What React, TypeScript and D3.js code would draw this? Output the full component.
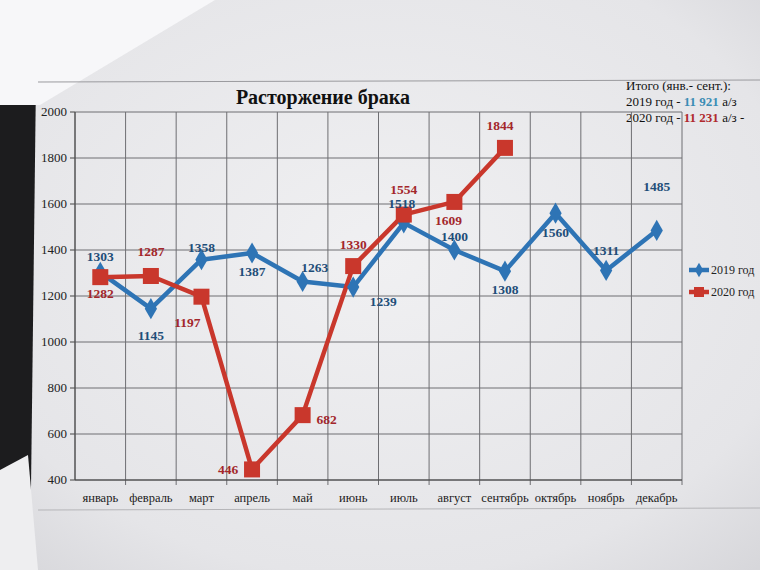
import React from "react";
import * as d3 from "d3";

const months = ["январь","февраль","март","апрель","май","июнь","июль","август","сентябрь","октябрь","ноябрь","декабрь"];
const values2019 = [1303,1145,1358,1387,1263,1239,1518,1400,1308,1560,1311,1485];
const values2020 = [1282,1287,1197,446,682,1330,1554,1609,1844];
const yTicks = [400,600,800,1000,1200,1400,1600,1800,2000];
const seriesNames = ["2019 год","2020 год"];

// label placement offsets (layout only)
const lab2019 = [[0,-16],[0,26],[0,-13],[0,18],[12,-15],[30,14],[-2,-20],[0,-14],[0,18],[0,19],[0,-20],[0,-44]];
const lab2020 = [[0,16],[0,-25],[-14,25],[-24,0],[24,4],[0,-22],[0,-26],[-6,18],[-5,-23]];

const W = 760, H = 570;
const L = 75, R = 682, T = 112, B = 480;

export default function App() {
  const x = d3.scaleBand<string>().domain(months).range([L, R]).paddingInner(0).paddingOuter(0);
  const y = d3.scaleLinear().domain([400, 2000]).range([B, T]);
  const cx = (i: number) => (x(months[i]) as number) + x.bandwidth() / 2;
  const line = d3.line<number>().x((_, i) => cx(i)).y((d) => y(d));
  const blue = "#2e74b5", red = "#c9372c";
  const blueText = "#1f4e79", redText = "#a3272b";
  const serif = "'Liberation Serif', 'DejaVu Serif', serif";
  const bounds = x.domain().map((m) => x(m) as number).concat([R]);
  return (
    <svg width={W} height={H} style={{ display: "block", position: "absolute", left: 0, top: 0 }} fontFamily={serif}>
      <defs>
        <radialGradient id="paper" cx="50%" cy="45%" r="75%">
          <stop offset="0%" stopColor="#f0f0f2" />
          <stop offset="75%" stopColor="#e5e5e8" />
          <stop offset="100%" stopColor="#d6d6da" />
        </radialGradient>
      </defs>
      <rect x={0} y={0} width={W} height={H} fill="url(#paper)" />
      <polygon points="0,95 36,78 30,570 0,570" fill="#1c1c1e" />
      <polygon points="0,0 215,0 40,105 0,105" fill="#f7f7f9" />
      <polygon points="0,470 28,455 38,570 0,570" fill="#eeeef0" />
      <line x1={38} y1={82} x2={760} y2={80} stroke="#9a9a9e" strokeWidth={1} />
      <line x1={38} y1={510} x2={760} y2={508} stroke="#b5b5b8" strokeWidth={1} />

      <text x={323} y={104} textAnchor="middle" fontSize={20} fontWeight="bold" fill="#111">Расторжение брака</text>

      <g fontSize={13} fill="#111">
        <text x={626} y={90}>Итого (янв.- сент.):</text>
        <text x={626} y={106}>2019 год - <tspan fill="#3b8db5" fontWeight="bold">11 921</tspan> а/з</text>
        <text x={626} y={122}>2020 год - <tspan fill="#b02a2e" fontWeight="bold">11 231</tspan> а/з  -</text>
      </g>

      {yTicks.map((t) => (
        <g key={t}>
          <line x1={L} x2={R} y1={y(t)} y2={y(t)} stroke="#6e6e72" strokeWidth={1} />
          <line x1={L - 5} x2={L} y1={y(t)} y2={y(t)} stroke="#444" strokeWidth={1} />
          <text x={L - 8} y={y(t) + 4} textAnchor="end" fontSize={13} fill="#222">{t}</text>
        </g>
      ))}
      {bounds.map((b, i) => (
        <line key={i} x1={b} x2={b} y1={T} y2={B + (i === 0 ? 0 : 5)} stroke="#6e6e72" strokeWidth={1} />
      ))}
      <line x1={L} x2={L} y1={T} y2={B} stroke="#444" />
      <line x1={L} x2={R} y1={B} y2={B} stroke="#444" />
      {months.map((m, i) => (
        <text key={m} x={cx(i)} y={B + 22} textAnchor="middle" fontSize={12.5} fill="#222">{m}</text>
      ))}

      <path d={line(values2019) || ""} fill="none" stroke={blue} strokeWidth={4.5} strokeLinejoin="round" />
      <path d={line(values2020) || ""} fill="none" stroke={red} strokeWidth={4.5} strokeLinejoin="round" />
      {values2019.map((v, i) => (
        <path key={i} d={d3.symbol(d3.symbolDiamond, 130)() || ""} transform={`translate(${cx(i)},${y(v)})`} fill={blue} />
      ))}
      {values2020.map((v, i) => (
        <rect key={i} x={cx(i) - 8} y={y(v) - 8} width={16} height={16} fill={red} />
      ))}
      {values2019.map((v, i) => (
        <text key={i} x={cx(i) + lab2019[i][0]} y={y(v) + lab2019[i][1] + 5} textAnchor="middle" fontSize={13.5} fontWeight="bold" fill={blueText}>{v}</text>
      ))}
      {values2020.map((v, i) => (
        <text key={i} x={cx(i) + lab2020[i][0]} y={y(v) + lab2020[i][1] + 5} textAnchor="middle" fontSize={13.5} fontWeight="bold" fill={redText}>{v}</text>
      ))}

      <g>
        <line x1={689} x2={709} y1={270} y2={270} stroke={blue} strokeWidth={4.5} />
        <path d={d3.symbol(d3.symbolDiamond, 60)() || ""} transform="translate(699,270)" fill={blue} />
        <text x={711} y={274} fontSize={12} fill="#222">{seriesNames[0]}</text>
        <line x1={689} x2={709} y1={292} y2={292} stroke={red} strokeWidth={4.5} />
        <rect x={694} y={287} width={10} height={10} fill={red} />
        <text x={711} y={296} fontSize={12} fill="#222">{seriesNames[1]}</text>
      </g>
    </svg>
  );
}
